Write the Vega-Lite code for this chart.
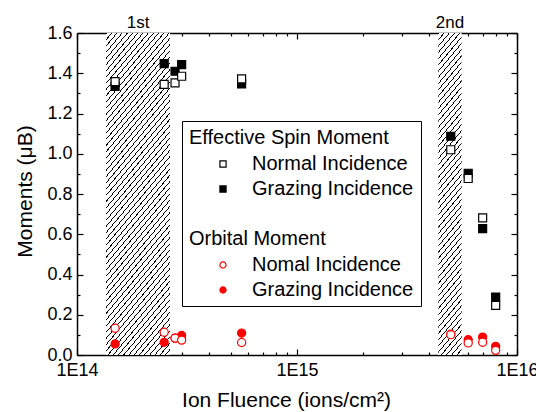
{
"$schema": "https://vega.github.io/schema/vega-lite/v6.json",
"width": 440, "height": 322,
"autosize": {"type": "none"},
"padding": {"left": 77, "top": 33, "right": 19, "bottom": 57},
"background": "white",
"config": {
 "view": {"stroke": null},
 "font": "Liberation Sans",
 "axis": {"labelFont": "Liberation Sans", "titleFont": "Liberation Sans", "labelFontSize": 18, "titleFontSize": 21, "titleFontWeight": "normal", "labelColor": "black", "titleColor": "black", "domainColor": "black", "domainWidth": 1.5, "tickColor": "black", "tickWidth": 1.2, "grid": false, "labelFlush": false, "labelBound": false},
 "legend": {"labelFont": "Liberation Sans", "titleFont": "Liberation Sans", "orient": "none", "padding": 7,
   "titleFontSize": 20, "titleFontWeight": "normal", "titleColor": "black", "titlePadding": 6, "titleLimit": 400,
   "labelFontSize": 20, "labelColor": "black", "labelLimit": 400, "symbolSize": 38, "symbolStrokeWidth": 1.2, "symbolOffset": 24, "labelOffset": 19, "rowPadding": 5}
},
"datasets": {
 "spin": [
  {"x":1.49e14,"y":1.335,"s":"sg"},
  {"x":2.49e14,"y":1.448,"s":"sg"},
  {"x":2.79e14,"y":1.41,"s":"sg"},
  {"x":2.99e14,"y":1.443,"s":"sg"},
  {"x":5.6e14,"y":1.347,"s":"sg"},
  {"x":5.0e15,"y":1.087,"s":"sg"},
  {"x":6.0e15,"y":0.903,"s":"sg"},
  {"x":6.98e15,"y":0.628,"s":"sg"},
  {"x":8.0e15,"y":0.288,"s":"sg"},
  {"x":1.49e14,"y":1.358,"s":"sn"},
  {"x":2.49e14,"y":1.345,"s":"sn"},
  {"x":2.79e14,"y":1.352,"s":"sn"},
  {"x":2.99e14,"y":1.385,"s":"sn"},
  {"x":5.6e14,"y":1.372,"s":"sn"},
  {"x":5.0e15,"y":1.02,"s":"sn"},
  {"x":6.0e15,"y":0.877,"s":"sn"},
  {"x":6.98e15,"y":0.681,"s":"sn"},
  {"x":8.0e15,"y":0.247,"s":"sn"}
 ],
 "orb": [
  {"x":1.49e14,"y":0.055,"s":"og"},
  {"x":2.49e14,"y":0.063,"s":"og"},
  {"x":2.79e14,"y":0.084,"s":"og"},
  {"x":2.99e14,"y":0.097,"s":"og"},
  {"x":5.6e14,"y":0.109,"s":"og"},
  {"x":5.0e15,"y":0.103,"s":"og"},
  {"x":6.0e15,"y":0.076,"s":"og"},
  {"x":6.98e15,"y":0.089,"s":"og"},
  {"x":8.0e15,"y":0.043,"s":"og"},
  {"x":1.49e14,"y":0.133,"s":"on"},
  {"x":2.49e14,"y":0.113,"s":"on"},
  {"x":2.79e14,"y":0.084,"s":"on"},
  {"x":2.99e14,"y":0.074,"s":"on"},
  {"x":5.6e14,"y":0.062,"s":"on"},
  {"x":5.0e15,"y":0.101,"s":"on"},
  {"x":6.0e15,"y":0.06,"s":"on"},
  {"x":6.98e15,"y":0.063,"s":"on"},
  {"x":8.0e15,"y":0.023,"s":"on"}
 ],
 "h1": [{"x1":1.355e14,"x2":2.647e14}],
 "h2": [{"x1":4.39e15,"x2":5.6e15}],
 "lab": [{"label":"1st","x":1.894e14},{"label":"2nd","x":4.958e15}]
},
"layer": [
 {
  "data": {"name": "h1"},
  "mark": {"type": "rect", "stroke": null, "fill": {"gradient": "linear", "x1": 0, "y1": 0, "x2": 0.347, "y2": 1.464, "stops": [
{"offset":0,"color":"#000"},{"offset":0.0025,"color":"#000"},{"offset":0.0025,"color":"#fff"},{"offset":0.0125,"color":"#fff"},
{"offset":0.0125,"color":"#000"},{"offset":0.015,"color":"#000"},{"offset":0.015,"color":"#fff"},{"offset":0.025,"color":"#fff"},
{"offset":0.025,"color":"#000"},{"offset":0.0275,"color":"#000"},{"offset":0.0275,"color":"#fff"},{"offset":0.0375,"color":"#fff"},
{"offset":0.0375,"color":"#000"},{"offset":0.04,"color":"#000"},{"offset":0.04,"color":"#fff"},{"offset":0.05,"color":"#fff"},
{"offset":0.05,"color":"#000"},{"offset":0.0525,"color":"#000"},{"offset":0.0525,"color":"#fff"},{"offset":0.0625,"color":"#fff"},
{"offset":0.0625,"color":"#000"},{"offset":0.065,"color":"#000"},{"offset":0.065,"color":"#fff"},{"offset":0.075,"color":"#fff"},
{"offset":0.075,"color":"#000"},{"offset":0.0775,"color":"#000"},{"offset":0.0775,"color":"#fff"},{"offset":0.0875,"color":"#fff"},
{"offset":0.0875,"color":"#000"},{"offset":0.09,"color":"#000"},{"offset":0.09,"color":"#fff"},{"offset":0.1,"color":"#fff"},
{"offset":0.1,"color":"#000"},{"offset":0.1025,"color":"#000"},{"offset":0.1025,"color":"#fff"},{"offset":0.1125,"color":"#fff"},
{"offset":0.1125,"color":"#000"},{"offset":0.115,"color":"#000"},{"offset":0.115,"color":"#fff"},{"offset":0.125,"color":"#fff"},
{"offset":0.125,"color":"#000"},{"offset":0.1275,"color":"#000"},{"offset":0.1275,"color":"#fff"},{"offset":0.1375,"color":"#fff"},
{"offset":0.1375,"color":"#000"},{"offset":0.14,"color":"#000"},{"offset":0.14,"color":"#fff"},{"offset":0.15,"color":"#fff"},
{"offset":0.15,"color":"#000"},{"offset":0.1525,"color":"#000"},{"offset":0.1525,"color":"#fff"},{"offset":0.1625,"color":"#fff"},
{"offset":0.1625,"color":"#000"},{"offset":0.165,"color":"#000"},{"offset":0.165,"color":"#fff"},{"offset":0.175,"color":"#fff"},
{"offset":0.175,"color":"#000"},{"offset":0.1775,"color":"#000"},{"offset":0.1775,"color":"#fff"},{"offset":0.1875,"color":"#fff"},
{"offset":0.1875,"color":"#000"},{"offset":0.19,"color":"#000"},{"offset":0.19,"color":"#fff"},{"offset":0.2,"color":"#fff"},
{"offset":0.2,"color":"#000"},{"offset":0.2025,"color":"#000"},{"offset":0.2025,"color":"#fff"},{"offset":0.2125,"color":"#fff"},
{"offset":0.2125,"color":"#000"},{"offset":0.215,"color":"#000"},{"offset":0.215,"color":"#fff"},{"offset":0.225,"color":"#fff"},
{"offset":0.225,"color":"#000"},{"offset":0.2275,"color":"#000"},{"offset":0.2275,"color":"#fff"},{"offset":0.2375,"color":"#fff"},
{"offset":0.2375,"color":"#000"},{"offset":0.24,"color":"#000"},{"offset":0.24,"color":"#fff"},{"offset":0.25,"color":"#fff"},
{"offset":0.25,"color":"#000"},{"offset":0.2525,"color":"#000"},{"offset":0.2525,"color":"#fff"},{"offset":0.2625,"color":"#fff"},
{"offset":0.2625,"color":"#000"},{"offset":0.265,"color":"#000"},{"offset":0.265,"color":"#fff"},{"offset":0.275,"color":"#fff"},
{"offset":0.275,"color":"#000"},{"offset":0.2775,"color":"#000"},{"offset":0.2775,"color":"#fff"},{"offset":0.2875,"color":"#fff"},
{"offset":0.2875,"color":"#000"},{"offset":0.29,"color":"#000"},{"offset":0.29,"color":"#fff"},{"offset":0.3,"color":"#fff"},
{"offset":0.3,"color":"#000"},{"offset":0.3025,"color":"#000"},{"offset":0.3025,"color":"#fff"},{"offset":0.3125,"color":"#fff"},
{"offset":0.3125,"color":"#000"},{"offset":0.315,"color":"#000"},{"offset":0.315,"color":"#fff"},{"offset":0.325,"color":"#fff"},
{"offset":0.325,"color":"#000"},{"offset":0.3275,"color":"#000"},{"offset":0.3275,"color":"#fff"},{"offset":0.3375,"color":"#fff"},
{"offset":0.3375,"color":"#000"},{"offset":0.34,"color":"#000"},{"offset":0.34,"color":"#fff"},{"offset":0.35,"color":"#fff"},
{"offset":0.35,"color":"#000"},{"offset":0.3525,"color":"#000"},{"offset":0.3525,"color":"#fff"},{"offset":0.3625,"color":"#fff"},
{"offset":0.3625,"color":"#000"},{"offset":0.365,"color":"#000"},{"offset":0.365,"color":"#fff"},{"offset":0.375,"color":"#fff"},
{"offset":0.375,"color":"#000"},{"offset":0.3775,"color":"#000"},{"offset":0.3775,"color":"#fff"},{"offset":0.3875,"color":"#fff"},
{"offset":0.3875,"color":"#000"},{"offset":0.39,"color":"#000"},{"offset":0.39,"color":"#fff"},{"offset":0.4,"color":"#fff"},
{"offset":0.4,"color":"#000"},{"offset":0.4025,"color":"#000"},{"offset":0.4025,"color":"#fff"},{"offset":0.4125,"color":"#fff"},
{"offset":0.4125,"color":"#000"},{"offset":0.415,"color":"#000"},{"offset":0.415,"color":"#fff"},{"offset":0.425,"color":"#fff"},
{"offset":0.425,"color":"#000"},{"offset":0.4275,"color":"#000"},{"offset":0.4275,"color":"#fff"},{"offset":0.4375,"color":"#fff"},
{"offset":0.4375,"color":"#000"},{"offset":0.44,"color":"#000"},{"offset":0.44,"color":"#fff"},{"offset":0.45,"color":"#fff"},
{"offset":0.45,"color":"#000"},{"offset":0.4525,"color":"#000"},{"offset":0.4525,"color":"#fff"},{"offset":0.4625,"color":"#fff"},
{"offset":0.4625,"color":"#000"},{"offset":0.465,"color":"#000"},{"offset":0.465,"color":"#fff"},{"offset":0.475,"color":"#fff"},
{"offset":0.475,"color":"#000"},{"offset":0.4775,"color":"#000"},{"offset":0.4775,"color":"#fff"},{"offset":0.4875,"color":"#fff"},
{"offset":0.4875,"color":"#000"},{"offset":0.49,"color":"#000"},{"offset":0.49,"color":"#fff"},{"offset":0.5,"color":"#fff"},
{"offset":0.5,"color":"#000"},{"offset":0.5025,"color":"#000"},{"offset":0.5025,"color":"#fff"},{"offset":0.5125,"color":"#fff"},
{"offset":0.5125,"color":"#000"},{"offset":0.515,"color":"#000"},{"offset":0.515,"color":"#fff"},{"offset":0.525,"color":"#fff"},
{"offset":0.525,"color":"#000"},{"offset":0.5275,"color":"#000"},{"offset":0.5275,"color":"#fff"},{"offset":0.5375,"color":"#fff"},
{"offset":0.5375,"color":"#000"},{"offset":0.54,"color":"#000"},{"offset":0.54,"color":"#fff"},{"offset":0.55,"color":"#fff"},
{"offset":0.55,"color":"#000"},{"offset":0.5525,"color":"#000"},{"offset":0.5525,"color":"#fff"},{"offset":0.5625,"color":"#fff"},
{"offset":0.5625,"color":"#000"},{"offset":0.565,"color":"#000"},{"offset":0.565,"color":"#fff"},{"offset":0.575,"color":"#fff"},
{"offset":0.575,"color":"#000"},{"offset":0.5775,"color":"#000"},{"offset":0.5775,"color":"#fff"},{"offset":0.5875,"color":"#fff"},
{"offset":0.5875,"color":"#000"},{"offset":0.59,"color":"#000"},{"offset":0.59,"color":"#fff"},{"offset":0.6,"color":"#fff"},
{"offset":0.6,"color":"#000"},{"offset":0.6025,"color":"#000"},{"offset":0.6025,"color":"#fff"},{"offset":0.6125,"color":"#fff"},
{"offset":0.6125,"color":"#000"},{"offset":0.615,"color":"#000"},{"offset":0.615,"color":"#fff"},{"offset":0.625,"color":"#fff"},
{"offset":0.625,"color":"#000"},{"offset":0.6275,"color":"#000"},{"offset":0.6275,"color":"#fff"},{"offset":0.6375,"color":"#fff"},
{"offset":0.6375,"color":"#000"},{"offset":0.64,"color":"#000"},{"offset":0.64,"color":"#fff"},{"offset":0.65,"color":"#fff"},
{"offset":0.65,"color":"#000"},{"offset":0.6525,"color":"#000"},{"offset":0.6525,"color":"#fff"},{"offset":0.6625,"color":"#fff"},
{"offset":0.6625,"color":"#000"},{"offset":0.665,"color":"#000"},{"offset":0.665,"color":"#fff"},{"offset":0.675,"color":"#fff"},
{"offset":0.675,"color":"#000"},{"offset":0.6775,"color":"#000"},{"offset":0.6775,"color":"#fff"},{"offset":0.6875,"color":"#fff"},
{"offset":0.6875,"color":"#000"},{"offset":0.69,"color":"#000"},{"offset":0.69,"color":"#fff"},{"offset":0.7,"color":"#fff"},
{"offset":0.7,"color":"#000"},{"offset":0.7025,"color":"#000"},{"offset":0.7025,"color":"#fff"},{"offset":0.7125,"color":"#fff"},
{"offset":0.7125,"color":"#000"},{"offset":0.715,"color":"#000"},{"offset":0.715,"color":"#fff"},{"offset":0.725,"color":"#fff"},
{"offset":0.725,"color":"#000"},{"offset":0.7275,"color":"#000"},{"offset":0.7275,"color":"#fff"},{"offset":0.7375,"color":"#fff"},
{"offset":0.7375,"color":"#000"},{"offset":0.74,"color":"#000"},{"offset":0.74,"color":"#fff"},{"offset":0.75,"color":"#fff"},
{"offset":0.75,"color":"#000"},{"offset":0.7525,"color":"#000"},{"offset":0.7525,"color":"#fff"},{"offset":0.7625,"color":"#fff"},
{"offset":0.7625,"color":"#000"},{"offset":0.765,"color":"#000"},{"offset":0.765,"color":"#fff"},{"offset":0.775,"color":"#fff"},
{"offset":0.775,"color":"#000"},{"offset":0.7775,"color":"#000"},{"offset":0.7775,"color":"#fff"},{"offset":0.7875,"color":"#fff"},
{"offset":0.7875,"color":"#000"},{"offset":0.79,"color":"#000"},{"offset":0.79,"color":"#fff"},{"offset":0.8,"color":"#fff"}
  ]}},
  "encoding": {
   "x": {"field": "x1", "type": "quantitative", "scale": {"type": "log", "domain": [1e14, 1e16], "nice": false},
         "axis": {"orient": "top", "values": [1e14, 1e15, 1e16], "labels": false, "tickSize": -6, "title": null, "domain": true}},
   "x2": {"field": "x2"},
   "y": {"datum": 0, "type": "quantitative", "scale": {"domain": [0, 1.6], "nice": false, "zero": false},
         "axis": {"orient": "right", "values": [0, 0.2, 0.4, 0.6, 0.8, 1.0, 1.2, 1.4, 1.6], "labels": false, "tickSize": -6, "title": null, "domain": true}},
   "y2": {"datum": 1.6}
  }
 },
 {
  "data": {"name": "h2"},
  "mark": {"type": "rect", "stroke": null, "fill": {"gradient": "linear", "x1": 0, "y1": 0, "x2": 0.1331, "y2": 1.5405, "stops": [
{"offset":0,"color":"#000"},{"offset":0.0025,"color":"#000"},{"offset":0.0025,"color":"#fff"},{"offset":0.0125,"color":"#fff"},
{"offset":0.0125,"color":"#000"},{"offset":0.015,"color":"#000"},{"offset":0.015,"color":"#fff"},{"offset":0.025,"color":"#fff"},
{"offset":0.025,"color":"#000"},{"offset":0.0275,"color":"#000"},{"offset":0.0275,"color":"#fff"},{"offset":0.0375,"color":"#fff"},
{"offset":0.0375,"color":"#000"},{"offset":0.04,"color":"#000"},{"offset":0.04,"color":"#fff"},{"offset":0.05,"color":"#fff"},
{"offset":0.05,"color":"#000"},{"offset":0.0525,"color":"#000"},{"offset":0.0525,"color":"#fff"},{"offset":0.0625,"color":"#fff"},
{"offset":0.0625,"color":"#000"},{"offset":0.065,"color":"#000"},{"offset":0.065,"color":"#fff"},{"offset":0.075,"color":"#fff"},
{"offset":0.075,"color":"#000"},{"offset":0.0775,"color":"#000"},{"offset":0.0775,"color":"#fff"},{"offset":0.0875,"color":"#fff"},
{"offset":0.0875,"color":"#000"},{"offset":0.09,"color":"#000"},{"offset":0.09,"color":"#fff"},{"offset":0.1,"color":"#fff"},
{"offset":0.1,"color":"#000"},{"offset":0.1025,"color":"#000"},{"offset":0.1025,"color":"#fff"},{"offset":0.1125,"color":"#fff"},
{"offset":0.1125,"color":"#000"},{"offset":0.115,"color":"#000"},{"offset":0.115,"color":"#fff"},{"offset":0.125,"color":"#fff"},
{"offset":0.125,"color":"#000"},{"offset":0.1275,"color":"#000"},{"offset":0.1275,"color":"#fff"},{"offset":0.1375,"color":"#fff"},
{"offset":0.1375,"color":"#000"},{"offset":0.14,"color":"#000"},{"offset":0.14,"color":"#fff"},{"offset":0.15,"color":"#fff"},
{"offset":0.15,"color":"#000"},{"offset":0.1525,"color":"#000"},{"offset":0.1525,"color":"#fff"},{"offset":0.1625,"color":"#fff"},
{"offset":0.1625,"color":"#000"},{"offset":0.165,"color":"#000"},{"offset":0.165,"color":"#fff"},{"offset":0.175,"color":"#fff"},
{"offset":0.175,"color":"#000"},{"offset":0.1775,"color":"#000"},{"offset":0.1775,"color":"#fff"},{"offset":0.1875,"color":"#fff"},
{"offset":0.1875,"color":"#000"},{"offset":0.19,"color":"#000"},{"offset":0.19,"color":"#fff"},{"offset":0.2,"color":"#fff"},
{"offset":0.2,"color":"#000"},{"offset":0.2025,"color":"#000"},{"offset":0.2025,"color":"#fff"},{"offset":0.2125,"color":"#fff"},
{"offset":0.2125,"color":"#000"},{"offset":0.215,"color":"#000"},{"offset":0.215,"color":"#fff"},{"offset":0.225,"color":"#fff"},
{"offset":0.225,"color":"#000"},{"offset":0.2275,"color":"#000"},{"offset":0.2275,"color":"#fff"},{"offset":0.2375,"color":"#fff"},
{"offset":0.2375,"color":"#000"},{"offset":0.24,"color":"#000"},{"offset":0.24,"color":"#fff"},{"offset":0.25,"color":"#fff"},
{"offset":0.25,"color":"#000"},{"offset":0.2525,"color":"#000"},{"offset":0.2525,"color":"#fff"},{"offset":0.2625,"color":"#fff"},
{"offset":0.2625,"color":"#000"},{"offset":0.265,"color":"#000"},{"offset":0.265,"color":"#fff"},{"offset":0.275,"color":"#fff"},
{"offset":0.275,"color":"#000"},{"offset":0.2775,"color":"#000"},{"offset":0.2775,"color":"#fff"},{"offset":0.2875,"color":"#fff"},
{"offset":0.2875,"color":"#000"},{"offset":0.29,"color":"#000"},{"offset":0.29,"color":"#fff"},{"offset":0.3,"color":"#fff"},
{"offset":0.3,"color":"#000"},{"offset":0.3025,"color":"#000"},{"offset":0.3025,"color":"#fff"},{"offset":0.3125,"color":"#fff"},
{"offset":0.3125,"color":"#000"},{"offset":0.315,"color":"#000"},{"offset":0.315,"color":"#fff"},{"offset":0.325,"color":"#fff"},
{"offset":0.325,"color":"#000"},{"offset":0.3275,"color":"#000"},{"offset":0.3275,"color":"#fff"},{"offset":0.3375,"color":"#fff"},
{"offset":0.3375,"color":"#000"},{"offset":0.34,"color":"#000"},{"offset":0.34,"color":"#fff"},{"offset":0.35,"color":"#fff"},
{"offset":0.35,"color":"#000"},{"offset":0.3525,"color":"#000"},{"offset":0.3525,"color":"#fff"},{"offset":0.3625,"color":"#fff"},
{"offset":0.3625,"color":"#000"},{"offset":0.365,"color":"#000"},{"offset":0.365,"color":"#fff"},{"offset":0.375,"color":"#fff"},
{"offset":0.375,"color":"#000"},{"offset":0.3775,"color":"#000"},{"offset":0.3775,"color":"#fff"},{"offset":0.3875,"color":"#fff"},
{"offset":0.3875,"color":"#000"},{"offset":0.39,"color":"#000"},{"offset":0.39,"color":"#fff"},{"offset":0.4,"color":"#fff"},
{"offset":0.4,"color":"#000"},{"offset":0.4025,"color":"#000"},{"offset":0.4025,"color":"#fff"},{"offset":0.4125,"color":"#fff"},
{"offset":0.4125,"color":"#000"},{"offset":0.415,"color":"#000"},{"offset":0.415,"color":"#fff"},{"offset":0.425,"color":"#fff"},
{"offset":0.425,"color":"#000"},{"offset":0.4275,"color":"#000"},{"offset":0.4275,"color":"#fff"},{"offset":0.4375,"color":"#fff"},
{"offset":0.4375,"color":"#000"},{"offset":0.44,"color":"#000"},{"offset":0.44,"color":"#fff"},{"offset":0.45,"color":"#fff"},
{"offset":0.45,"color":"#000"},{"offset":0.4525,"color":"#000"},{"offset":0.4525,"color":"#fff"},{"offset":0.4625,"color":"#fff"},
{"offset":0.4625,"color":"#000"},{"offset":0.465,"color":"#000"},{"offset":0.465,"color":"#fff"},{"offset":0.475,"color":"#fff"},
{"offset":0.475,"color":"#000"},{"offset":0.4775,"color":"#000"},{"offset":0.4775,"color":"#fff"},{"offset":0.4875,"color":"#fff"},
{"offset":0.4875,"color":"#000"},{"offset":0.49,"color":"#000"},{"offset":0.49,"color":"#fff"},{"offset":0.5,"color":"#fff"},
{"offset":0.5,"color":"#000"},{"offset":0.5025,"color":"#000"},{"offset":0.5025,"color":"#fff"},{"offset":0.5125,"color":"#fff"},
{"offset":0.5125,"color":"#000"},{"offset":0.515,"color":"#000"},{"offset":0.515,"color":"#fff"},{"offset":0.525,"color":"#fff"},
{"offset":0.525,"color":"#000"},{"offset":0.5275,"color":"#000"},{"offset":0.5275,"color":"#fff"},{"offset":0.5375,"color":"#fff"},
{"offset":0.5375,"color":"#000"},{"offset":0.54,"color":"#000"},{"offset":0.54,"color":"#fff"},{"offset":0.55,"color":"#fff"},
{"offset":0.55,"color":"#000"},{"offset":0.5525,"color":"#000"},{"offset":0.5525,"color":"#fff"},{"offset":0.5625,"color":"#fff"},
{"offset":0.5625,"color":"#000"},{"offset":0.565,"color":"#000"},{"offset":0.565,"color":"#fff"},{"offset":0.575,"color":"#fff"},
{"offset":0.575,"color":"#000"},{"offset":0.5775,"color":"#000"},{"offset":0.5775,"color":"#fff"},{"offset":0.5875,"color":"#fff"},
{"offset":0.5875,"color":"#000"},{"offset":0.59,"color":"#000"},{"offset":0.59,"color":"#fff"},{"offset":0.6,"color":"#fff"},
{"offset":0.6,"color":"#000"},{"offset":0.6025,"color":"#000"},{"offset":0.6025,"color":"#fff"},{"offset":0.6125,"color":"#fff"},
{"offset":0.6125,"color":"#000"},{"offset":0.615,"color":"#000"},{"offset":0.615,"color":"#fff"},{"offset":0.625,"color":"#fff"},
{"offset":0.625,"color":"#000"},{"offset":0.6275,"color":"#000"},{"offset":0.6275,"color":"#fff"},{"offset":0.6375,"color":"#fff"},
{"offset":0.6375,"color":"#000"},{"offset":0.64,"color":"#000"},{"offset":0.64,"color":"#fff"},{"offset":0.65,"color":"#fff"},
{"offset":0.65,"color":"#000"},{"offset":0.6525,"color":"#000"},{"offset":0.6525,"color":"#fff"},{"offset":0.6625,"color":"#fff"},
{"offset":0.6625,"color":"#000"},{"offset":0.665,"color":"#000"},{"offset":0.665,"color":"#fff"},{"offset":0.675,"color":"#fff"},
{"offset":0.675,"color":"#000"},{"offset":0.6775,"color":"#000"},{"offset":0.6775,"color":"#fff"},{"offset":0.6875,"color":"#fff"},
{"offset":0.6875,"color":"#000"},{"offset":0.69,"color":"#000"},{"offset":0.69,"color":"#fff"},{"offset":0.7,"color":"#fff"}
  ]}},
  "encoding": {
   "x": {"field": "x1", "type": "quantitative", "scale": {"type": "log", "domain": [1e14, 1e16], "nice": false},
         "axis": {"orient": "bottom", "values": [2e14,3e14,4e14,5e14,6e14,7e14,8e14,9e14,2e15,3e15,4e15,5e15,6e15,7e15,8e15,9e15], "labels": false, "tickSize": -3, "title": null, "domain": false}},
   "x2": {"field": "x2"},
   "y": {"datum": 0, "type": "quantitative", "scale": {"domain": [0, 1.6], "nice": false, "zero": false},
         "axis": {"orient": "left", "values": [0.1, 0.3, 0.5, 0.7, 0.9, 1.1, 1.3, 1.5], "labels": false, "tickSize": -3, "title": null, "domain": false}},
   "y2": {"datum": 1.6}
  }
 },
 {
  "data": {"name": "spin"},
  "mark": {"type": "point", "size": 64, "strokeWidth": 1.2, "opacity": 1},
  "encoding": {
   "x": {"field": "x", "type": "quantitative", "scale": {"type": "log", "domain": [1e14, 1e16], "nice": false},
         "axis": {"orient": "bottom", "values": [1e14, 1e15, 1e16], "tickSize": -6, "labelPadding": 12, "labelExpr": "datum.value < 5e14 ? '1E14' : datum.value < 5e15 ? '1E15' : '1E16'", "title": "Ion Fluence (ions/cm²)", "titleFontSize": 21, "titlePadding": 10, "titleX": 209, "domain": true}},
   "y": {"field": "y", "type": "quantitative", "scale": {"domain": [0, 1.6], "nice": false, "zero": false},
         "axis": {"orient": "left", "values": [0, 0.2, 0.4, 0.6, 0.8, 1.0, 1.2, 1.4, 1.6], "format": ".1f", "tickSize": -6, "labelPadding": 11, "title": "Moments (μB)", "titleFontSize": 21, "titlePadding": 11, "titleY": 158, "domain": true}},
   "shape": {"field": "s", "type": "nominal", "scale": {"domain": ["sn", "sg", "b1", "b2", "b3", "b4"], "range": ["square", "square", "circle", "circle", "circle", "circle"]},
     "legend": {"title": "Effective Spin Moment", "legendX": 105, "legendY": 88, "strokeColor": "black", "fillColor": "white",
       "labelExpr": "datum.value == 'sn' ? 'Normal Incidence' : datum.value == 'sg' ? 'Grazing Incidence' : ' '"}},
   "fill": {"field": "s", "type": "nominal", "scale": {"domain": ["sn", "sg", "b1", "b2", "b3", "b4"], "range": ["white", "black", "transparent", "transparent", "transparent", "transparent"]}},
   "stroke": {"field": "s", "type": "nominal", "scale": {"domain": ["sn", "sg", "b1", "b2", "b3", "b4"], "range": ["black", "black", "transparent", "transparent", "transparent", "transparent"]}}
  }
 },
 {
  "data": {"name": "orb"},
  "mark": {"type": "point", "size": 66, "strokeWidth": 1.2, "opacity": 1},
  "encoding": {
   "x": {"field": "x", "type": "quantitative", "scale": {"type": "log", "domain": [1e14, 1e16], "nice": false}, "axis": null},
   "y": {"field": "y", "type": "quantitative", "scale": {"domain": [0, 1.6], "nice": false, "zero": false}, "axis": null},
   "shape": {"field": "s", "type": "nominal", "scale": {"domain": ["on", "og"], "range": ["circle", "circle"]},
     "legend": {"title": "Orbital Moment", "legendX": 105, "legendY": 189, "strokeColor": "transparent",
       "labelExpr": "datum.value == 'on' ? 'Nomal Incidence' : 'Grazing Incidence'"}},
   "fill": {"field": "s", "type": "nominal", "scale": {"domain": ["on", "og"], "range": ["white", "red"]}},
   "stroke": {"field": "s", "type": "nominal", "scale": {"domain": ["on", "og"], "range": ["red", "red"]}}
  }
 },
 {
  "data": {"name": "lab"},
  "mark": {"type": "text", "baseline": "alphabetic", "dy": -5, "fontSize": 17, "font": "Liberation Sans", "color": "black"},
  "encoding": {
   "x": {"field": "x", "type": "quantitative", "scale": {"type": "log", "domain": [1e14, 1e16], "nice": false},
         "axis": {"orient": "top", "values": [2e14,3e14,4e14,5e14,6e14,7e14,8e14,9e14,2e15,3e15,4e15,5e15,6e15,7e15,8e15,9e15], "labels": false, "tickSize": -3, "title": null, "domain": false}},
   "y": {"datum": 1.6, "type": "quantitative", "scale": {"domain": [0, 1.6], "nice": false, "zero": false},
         "axis": {"orient": "right", "values": [0.1, 0.3, 0.5, 0.7, 0.9, 1.1, 1.3, 1.5], "labels": false, "tickSize": -3, "title": null, "domain": false}},
   "text": {"field": "label"}
  }
 }
],
"resolve": {"scale": {"x": "shared", "y": "shared", "shape": "independent", "fill": "independent", "stroke": "independent"}, "axis": {"x": "independent", "y": "independent"}, "legend": {"shape": "independent", "fill": "independent", "stroke": "independent"}}
}
